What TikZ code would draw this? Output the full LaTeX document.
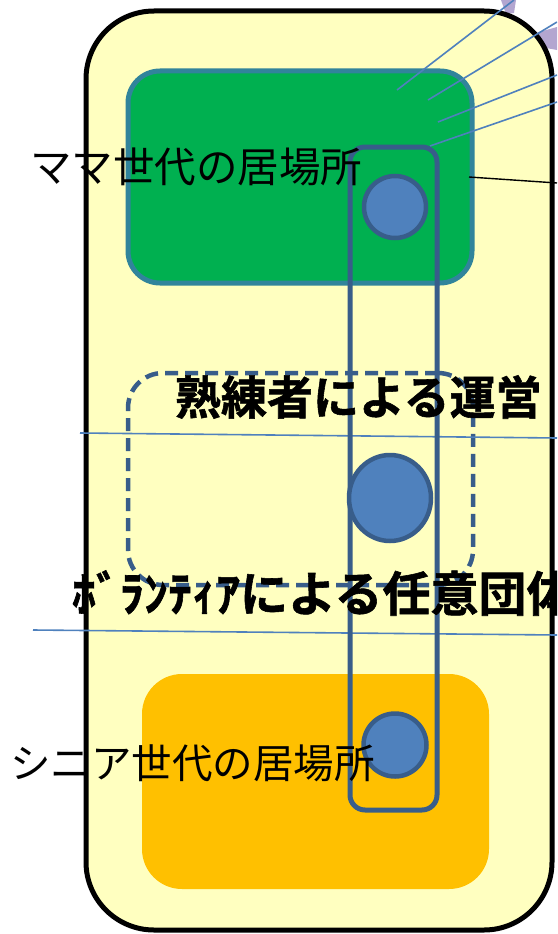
\documentclass[tikz,border=0pt]{standalone}
\usepackage{fontspec}
\newfontfamily\jp[BoldFont={Noto Sans CJK JP Bold}, BoldFeatures={FakeBold=1.2}]{Noto Sans CJK JP}
\usetikzlibrary{shapes.geometric}
\definecolor{outerfill}{HTML}{FFFFC0}
\definecolor{greenfill}{HTML}{00B050}
\definecolor{greenline}{HTML}{31849B}
\definecolor{orangefill}{HTML}{FFC000}
\definecolor{bluefill}{HTML}{4F81BD}
\definecolor{blueline}{HTML}{385D8A}
\definecolor{lav}{HTML}{B3A6D0}
\tikzset{
  box/.style={rectangle, inner sep=0pt, outer sep=0pt},
  outerbox/.style={box, draw=black, line width=5pt, fill=outerfill, rounded corners=68pt},
  greenbox/.style={box, draw=greenline, line width=5pt, fill=greenfill, rounded corners=32pt},
  orangebox/.style={box, fill=orangefill, rounded corners=40pt},
  dashbox/.style={box, draw=blueline, line width=4.5pt, dash pattern=on 13pt off 7pt, rounded corners=35pt},
  barbox/.style={box, draw=blueline, line width=5pt, rounded corners=15pt},
  dot/.style={ellipse, inner sep=0pt, outer sep=0pt, draw=blueline, line width=4.5pt, fill=bluefill},
  thinline/.style={draw=bluefill, line width=1.6pt},
  label/.style={inner sep=0pt, outer sep=0pt, anchor=west, font=\jp},
}
\begin{document}
\begin{tikzpicture}[x=1pt,y=-1pt]
\useasboundingbox (0,0) rectangle (557,934);
\clip (0,0) rectangle (557,934);
% lavender fragments of a shape behind the frame
\fill[lav] (501,0) -- (516,0) -- (514,13) -- (506,14) -- cycle;
\fill[lav] (532,34) -- (557,27) -- (557,50) -- (546,48) -- cycle;
% frames
\node[outerbox, minimum width=466pt, minimum height=919pt] (outer) at (319,470.5) {};
\node[greenbox, minimum width=344pt, minimum height=212pt] (mama) at (300,177) {};
\node[orangebox, minimum width=347pt, minimum height=215pt] (senior) at (315.5,781.5) {};
\node[dashbox, minimum width=345pt, minimum height=212pt] (expert) at (300.5,479) {};
% thin lines
\coordinate (a1) at (80,433);  \coordinate (a2) at (557,438);
\coordinate (b1) at (33,630);  \coordinate (b2) at (557,635);
\coordinate (f1s) at (397,90);  \coordinate (f1e) at (514,0);
\coordinate (f2s) at (428,100); \coordinate (f2e) at (557,22);
\coordinate (f3s) at (438,122); \coordinate (f3e) at (557,75);
\coordinate (f4s) at (430,146); \coordinate (f4e) at (557,102);
\coordinate (k1) at (469,177);  \coordinate (k2) at (557,183);
\draw[thinline] (a1) -- (a2);
\draw[thinline] (b1) -- (b2);
\draw[thinline] (f1s) -- (f1e);
\draw[thinline] (f2s) -- (f2e);
\draw[thinline] (f3s) -- (f3e);
\draw[thinline] (f4s) -- (f4e);
\draw[black, line width=1.4pt] (k1) -- (k2);
% bar and circles
\node[barbox, minimum width=87pt, minimum height=663pt] (bar) at (393.5,478.5) {};
\node[dot, minimum width=62pt, minimum height=62pt] (c1) at (395,207) {};
\node[dot, minimum width=82pt, minimum height=86pt] (c2) at (390,498) {};
\node[dot, minimum width=63pt, minimum height=63pt] (c3) at (395,745) {};
% labels
\node[label, font=\jp\fontsize{41.5pt}{41.5pt}\selectfont] (tmama) at (30,167) {ママ世代の居場所};
\node[label, font=\jp\bfseries\fontsize{46pt}{46pt}\selectfont] (texpert) at (175,397) {熟練者による運営};
\node[label, font=\jp\bfseries\fontsize{48pt}{48pt}\selectfont] (tvol) at (72,593) {ﾎﾞﾗﾝﾃｨｱによる任意団体};
\node[label, font=\jp\fontsize{40.5pt}{40.5pt}\selectfont] (tsenior) at (10,763) {シニア世代の居場所};
\end{tikzpicture}
\end{document}
